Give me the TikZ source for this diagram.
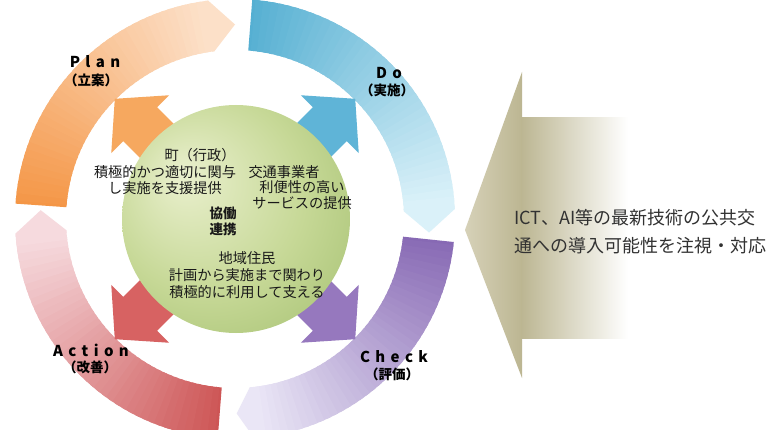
\documentclass[tikz,border=0pt]{standalone}
\usepackage{fontspec}
\newfontfamily\jp{Noto Sans CJK JP}
\newfontfamily\jplab[LetterSpace=36]{Noto Sans CJK JP}
\definecolor{planS}{RGB}{244,150,70}
\definecolor{planP}{RGB}{252,224,200}
\definecolor{doS}{RGB}{85,175,210}
\definecolor{doP}{RGB}{218,241,249}
\definecolor{chkS}{RGB}{135,105,180}
\definecolor{chkP}{RGB}{234,230,246}
\definecolor{actS}{RGB}{205,85,85}
\definecolor{actP}{RGB}{246,218,222}
\definecolor{inO}{RGB}{246,168,95}
\definecolor{inB}{RGB}{95,180,215}
\definecolor{inP}{RGB}{150,120,190}
\definecolor{inR}{RGB}{215,98,98}
\definecolor{gpale}{RGB}{234,240,206}
\definecolor{gmid}{RGB}{198,216,150}
\definecolor{gdark}{RGB}{160,189,108}
\definecolor{arrL}{RGB}{214,209,184}
\definecolor{arrM}{RGB}{188,182,146}
\definecolor{txt}{RGB}{25,25,25}
\definecolor{rtxt}{RGB}{50,50,50}
\pgfdeclareradialshading{greenball}{\pgfpoint{-12bp}{10bp}}{color(0bp)=(gpale); color(22bp)=(gmid); color(42bp)=(gdark); color(50bp)=(gdark)}
\def\rIn{169}
\def\rOut{220}
\def\rMid{194.5}
\newcommand\ringarrow[5]{%
  \foreach \i in {0,...,39}{%
    \pgfmathsetmacro\sa{#1+(#2-#1)*max(\i-0.6,0)/40}%
    \pgfmathsetmacro\sb{#1+(#2-#1)*(\i+1)/40}%
    \pgfmathtruncatemacro\pc{100-100*\i/39}%
    \fill[#4!\pc!#5] (\sa:\rOut pt) arc[start angle=\sa, end angle=\sb, radius=\rOut pt]
      -- (\sb:\rIn pt) arc[start angle=\sb, end angle=\sa, radius=\rIn pt] -- cycle;
  }%
  \pgfmathsetmacro\sh{#2+(#1-#2)*0.01}%
  \fill[#5] (\sh:\rIn pt) -- (\sh:\rOut pt) -- (#2:\rOut pt) -- (#3:\rMid pt) -- (#2:\rIn pt) -- cycle;
}
\tikzset{
  ctext/.style={inner sep=0pt, align=center, text=txt, font=\jp\fontsize{14.2}{16.5}\selectfont},
  lab/.style={inner sep=0pt, text=black, font=\jplab\bfseries\fontsize{15}{15}\selectfont},
  sublab/.style={inner sep=0pt, text=black, font=\jp\bfseries\fontsize{13.5}{14}\selectfont},
}
\begin{document}
\begin{tikzpicture}[x=1pt,y=1pt]
\useasboundingbox (0,0) rectangle (776,-430);
\fill[white] (0,0) rectangle (776,-430);
\begin{scope}
\clip (0,0) rectangle (776,-430);
\begin{scope}[shift={(235,-219)}]
  \ringarrow{176}{97}{90}{planS}{planP}
  \ringarrow{85.5}{2.6}{-4}{doS}{doP}
  \ringarrow{-6}{-85}{-89.5}{chkS}{chkP}
  \ringarrow{-94.5}{-176.2}{-182.6}{actS}{actP}
  \foreach \ang/\col in {135/inO,45/inB,-45/inP,-135/inR}{
    \fill[\col, rotate=\ang] (90,24) -- (134,24) -- (134,41) -- (170,0) -- (134,-41) -- (134,-24) -- (90,-24) -- cycle;
  }
\end{scope}
\end{scope}
\shade[shading=greenball] (236,-219) circle (114);
% right arrow
\shade[left color=arrL, right color=arrM] (465,-230) -- (522,-72) -- (522,-378) -- cycle;
\shade[left color=arrM, right color=white] (521.5,-118) rectangle (628,-338);
% labels
\node[lab] (plan) at (95,-62) {Plan};
\node[sublab] (plansub) at (91,-80) {（立案）};
\node[lab] (do) at (389,-73) {Do};
\node[sublab] (dosub) at (387,-90) {（実施）};
\node[lab] (act) at (91,-350) {Action};
\node[sublab] (actsub) at (90,-367) {（改善）};
\node[lab] (chk) at (394,-357) {Check};
\node[sublab] (chksub) at (392,-374) {（評価）};
% centre texts
\node[ctext] (gov) at (200,-155) {町（行政）};
\node[ctext] (govt) at (165,-180) {積極的かつ適切に関与\\し実施を支援提供};
\node[ctext] (op) at (284,-172) {交通事業者};
\node[ctext] (opt) at (302,-195) {利便性の高い\\サービスの提供};
\node[ctext, font=\jp\bfseries\fontsize{13.5}{16}\selectfont] (coop) at (223,-221) {協働\\連携};
\node[ctext, font=\jp\fontsize{14.2}{17}\selectfont] (res) at (247,-275) {地域住民\\計画から実施まで関わり\\積極的に利用して支える};
% right text
\node[inner sep=0pt, anchor=west, align=left, text=rtxt, font=\jp\fontsize{18}{28}\selectfont] (ict) at (514,-232) {ICT、AI等の最新技術の公共交\\通への導入可能性を注視・対応};
\end{tikzpicture}
\end{document}
